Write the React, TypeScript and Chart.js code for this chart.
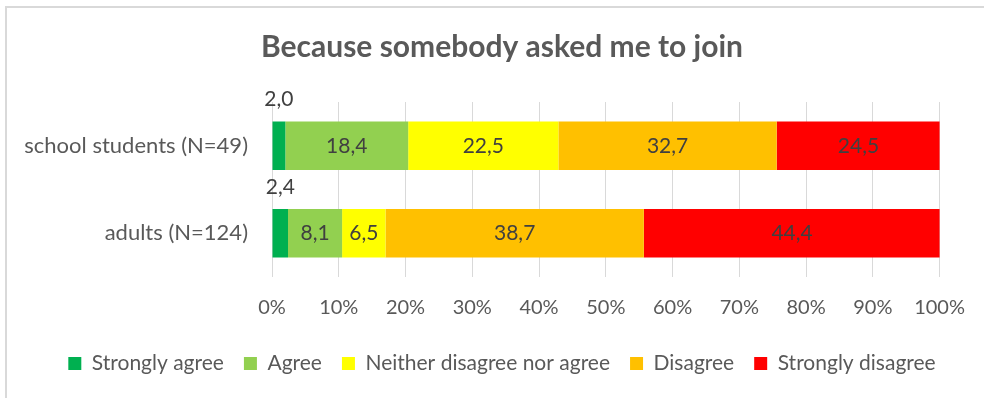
import React, { useEffect, useRef } from "react";
import { Chart, registerables } from "chart.js";

Chart.register(...registerables);

const TITLE = "Because somebody asked me to join";
const CATEGORIES = ["school students (N=49)", "adults (N=124)"];
const SERIES_NAMES = [
  "Strongly agree",
  "Agree",
  "Neither disagree nor agree",
  "Disagree",
  "Strongly disagree",
];
const STRONGLY_AGREE = [2.0, 2.4];
const AGREE = [18.4, 8.1];
const NEITHER = [22.5, 6.5];
const DISAGREE = [32.7, 38.7];
const STRONGLY_DISAGREE = [24.5, 44.4];
const SERIES_VALUES = [STRONGLY_AGREE, AGREE, NEITHER, DISAGREE, STRONGLY_DISAGREE];
const SERIES_COLORS = ["#00B050", "#92D050", "#FFFF00", "#FFC000", "#FF0000"];
const X_TICKS = [0, 10, 20, 30, 40, 50, 60, 70, 80, 90, 100];

const FONT = "Lato";
const TEXT = "#595959";
const LABEL = "#404040";

const valueLabels = {
  id: "valueLabels",
  afterDatasetsDraw(chart: any) {
    const ctx = chart.ctx;
    ctx.save();
    ctx.font = `21px ${FONT}`;
    ctx.fillStyle = LABEL;
    ctx.textAlign = "center";
    ctx.textBaseline = "middle";
    chart.data.datasets.forEach((ds: any, di: number) => {
      const meta = chart.getDatasetMeta(di);
      meta.data.forEach((bar: any, i: number) => {
        const v = ds.data[i];
        const p = bar.getProps(["x", "y", "base", "height"], true);
        const w = Math.abs(p.x - p.base);
        const cx = (p.x + p.base) / 2;
        const text = v.toFixed(1).replace(".", ",");
        if (w < ctx.measureText(text).width + 6) {
          ctx.fillText(text, cx, p.y - p.height / 2 - 22);
        } else {
          ctx.fillText(text, cx, p.y);
        }
      });
    });
    ctx.restore();
  },
};

export default function App() {
  const ref = useRef<HTMLCanvasElement>(null);

  useEffect(() => {
    if (!ref.current) return;
    const chart = new Chart(ref.current, {
      type: "bar",
      data: {
        labels: CATEGORIES,
        datasets: SERIES_NAMES.map((name, i) => ({
          label: name,
          data: SERIES_VALUES[i],
          backgroundColor: SERIES_COLORS[i],
          borderWidth: 0,
          barPercentage: 0.554,
          categoryPercentage: 1,
        })),
      },
      options: {
        indexAxis: "y",
        animation: false,
        responsive: true,
        maintainAspectRatio: false,
        layout: { padding: { left: 20, right: 0, top: 0, bottom: 14 } },
        font: { family: FONT },
        scales: {
          x: {
            stacked: true,
            min: 0,
            max: 100,
            afterBuildTicks: (scale: any) => {
              scale.ticks = X_TICKS.map((v) => ({ value: v }));
            },
            afterFit: (scale: any) => {
              scale.height = 56;
            },
            grid: { color: "#D9D9D9", lineWidth: 1, drawTicks: false },
            border: { display: false },
            ticks: {
              padding: 19,
              color: TEXT,
              font: { family: FONT, size: 20 },
              callback: (v: any) => `${v}%`,
            },
          },
          y: {
            stacked: true,
            afterFit: (scale: any) => {
              scale.width = 252;
            },
            grid: { display: false, drawTicks: false },
            border: { display: false },
            ticks: {
              padding: 24,
              color: TEXT,
              font: { family: FONT, size: 22 },
            },
          },
          yRightMargin: {
            type: "category",
            axis: "y",
            position: "right",
            labels: CATEGORIES,
            afterFit: (scale: any) => {
              scale.width = 43;
            },
            grid: { display: false, drawTicks: false },
            border: { display: false },
            ticks: { display: false },
          },
        },
        plugins: {
          title: {
            display: true,
            text: TITLE,
            color: TEXT,
            font: { family: FONT, size: 30, weight: "bold" },
            padding: { top: 29, bottom: 37 },
          },
          legend: {
            position: "bottom",
            labels: {
              boxWidth: 13,
              boxHeight: 13,
              padding: 20,
              color: TEXT,
              font: { family: FONT, size: 21 },
            },
          },
          tooltip: { enabled: false },
        },
      },
      plugins: [valueLabels],
    } as any);
    return () => chart.destroy();
  }, []);

  return (
    <div
      style={{
        position: "absolute",
        left: 0,
        top: 0,
        width: 984,
        height: 398,
        overflow: "hidden",
        background: "#FFFFFF",
      }}
    >
      <div
        style={{
          position: "absolute",
          left: 5,
          top: 6,
          width: 2000,
          height: 2000,
          borderTop: "2px solid #D9D9D9",
          borderLeft: "2px solid #D9D9D9",
        }}
      />
      <div style={{ position: "absolute", left: 0, top: 0, width: 984, height: 398 }}>
        <canvas ref={ref} />
      </div>
    </div>
  );
}
